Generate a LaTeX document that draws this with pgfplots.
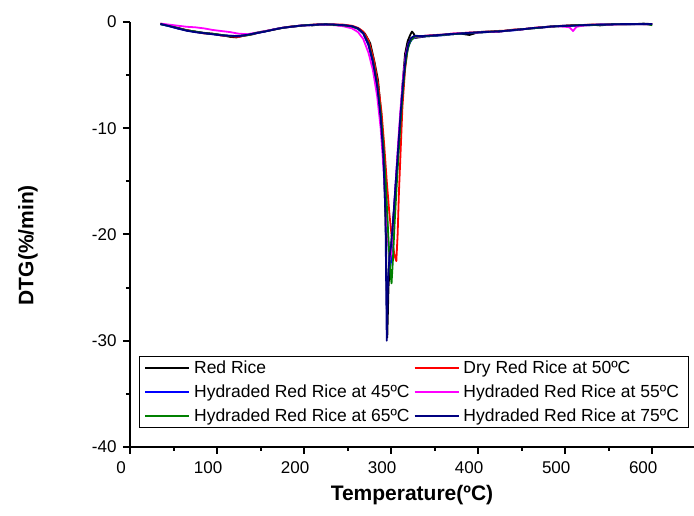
\documentclass[border=0pt]{standalone}
\usepackage{fontspec}
\setmainfont{Liberation Sans}
\usepackage{pgfplots}
\pgfplotsset{compat=1.18}
\definecolor{navyc}{RGB}{0,0,128}
\definecolor{greenc}{RGB}{0,128,0}
\definecolor{magc}{RGB}{255,0,255}
\definecolor{redc}{RGB}{255,0,0}
\definecolor{bluec}{RGB}{0,0,255}
\begin{document}
\begin{tikzpicture}
\useasboundingbox (-130pt,-69pt) rectangle (564pt,447pt);
\begin{axis}[
  at={(0,0)}, anchor=south west,
  scale only axis, width=564pt, height=425pt,
  xmin=0, xmax=648, ymin=-40, ymax=0,
  axis x line*=bottom, axis y line*=left,
  axis line style={line width=2pt,-},
  xtick={0,100,...,600}, ytick={-40,-30,...,0},
  minor x tick num=1, minor y tick num=1,
  tick align=outside, major tick length=7pt, minor tick length=4pt,
  every tick/.style={line width=2pt,black},
  /pgf/number format/assume math mode=true,
  tick label style={font=\fontsize{17}{19}\selectfont},
  xticklabel style={xshift=-9pt, yshift=-4pt},
  yticklabel style={xshift=-3pt},
  xlabel={\textbf{Temperature(ºC)}},
  ylabel={\textbf{DTG(\%/min)}},
  label style={font=\fontsize{21}{24}\selectfont},
  xlabel style={at={(axis description cs:0.5,-0.112)}, anchor=center},
  ylabel style={at={(axis description cs:-0.181,0.475)}, anchor=center},
  legend columns=2,
  legend style={at={(0.016,0.0447)}, anchor=south west, draw=black, line width=0.6pt,
    font=\fontsize{17.5}{20}\selectfont, inner xsep=5pt, inner ysep=2pt,
    nodes={inner xsep=4pt, inner ysep=2.5pt},
    row sep=5pt, /tikz/every even column/.append style={column sep=0pt}},
  legend cell align=left,
  legend image code/.code={\draw[#1,line width=1.8pt] (0pt,0pt) -- (44pt,0pt);},
  every axis plot/.append style={line width=1.8pt, line join=round},
]
\addplot[black] coordinates {
(35,-0.2)(45,-0.35)(55,-0.55)(65,-0.78)(75,-0.9)(85,-1.02)(95,-1.1)(105,-1.22)(115,-1.4)(122,-1.45)(130,-1.3)(140,-1.18)(150,-0.95)(160,-0.8)(170,-0.62)(180,-0.5)(190,-0.42)(200,-0.3)(210,-0.32)(220,-0.2)(230,-0.25)(240,-0.3)(250,-0.35)(258,-0.5)(264,-0.7)(270,-1.1)(276,-2.0)(281,-3.8)(285,-5.5)(289,-9)(292,-14)(294,-20)(295.6,-29.7)(297,-25)(299,-22)(301,-20)(304,-17)(307,-13.5)(310,-10)(313,-6)(316,-3)(319,-1.8)(322,-1.2)(324,-0.9)(326,-1.1)(328,-1.5)(332,-1.45)(340,-1.35)(350,-1.3)(360,-1.2)(370,-1.15)(380,-1.1)(390,-1.22)(395,-1.1)(400,-0.95)(410,-0.9)(420,-0.95)(430,-0.85)(440,-0.75)(450,-0.7)(460,-0.6)(470,-0.55)(480,-0.45)(490,-0.4)(500,-0.35)(510,-0.3)(520,-0.3)(530,-0.25)(540,-0.32)(550,-0.25)(560,-0.2)(570,-0.22)(580,-0.2)(590,-0.15)(600,-0.2)
};
\addlegendentry{Red Rice}
\addplot[redc] coordinates {
(35,-0.15)(45,-0.35)(55,-0.6)(65,-0.75)(75,-0.92)(85,-1.08)(95,-1.12)(105,-1.28)(115,-1.35)(125,-1.4)(135,-1.22)(145,-1.05)(155,-0.88)(165,-0.72)(175,-0.55)(185,-0.42)(195,-0.35)(205,-0.28)(215,-0.22)(225,-0.2)(235,-0.22)(245,-0.25)(255,-0.35)(262,-0.55)(268,-0.9)(274,-1.7)(280,-3.5)(285,-5.8)(289,-8.5)(292,-11.5)(295,-15)(298,-18)(301,-20.5)(304,-22)(306,-22.5)(307.5,-20)(309,-16)(311,-12)(313,-8)(316,-4.5)(319,-2.5)(322,-1.7)(326,-1.4)(332,-1.35)(340,-1.3)(350,-1.22)(360,-1.2)(370,-1.1)(380,-1.05)(390,-1.0)(400,-0.95)(410,-0.92)(420,-0.85)(430,-0.82)(440,-0.72)(450,-0.68)(460,-0.6)(470,-0.5)(480,-0.45)(490,-0.38)(500,-0.35)(510,-0.3)(520,-0.28)(530,-0.25)(540,-0.25)(550,-0.22)(560,-0.2)(570,-0.2)(580,-0.18)(590,-0.2)(600,-0.2)
};
\addlegendentry{Dry Red Rice at 50ºC}
\addplot[bluec] coordinates {
(35,-0.2)(45,-0.4)(55,-0.62)(65,-0.8)(75,-0.95)(85,-1.05)(95,-1.15)(105,-1.25)(115,-1.3)(125,-1.35)(135,-1.2)(145,-1.05)(155,-0.9)(165,-0.7)(175,-0.55)(185,-0.45)(195,-0.35)(205,-0.3)(215,-0.25)(225,-0.25)(235,-0.25)(245,-0.3)(255,-0.4)(262,-0.65)(268,-1.1)(274,-2.2)(279,-3.8)(284,-6.2)(288,-9)(291,-12)(294,-16)(296.5,-20.5)(298.5,-23.3)(300,-22.5)(302,-19.5)(305,-15.5)(308,-12)(311,-8.5)(314,-5.5)(317,-3.3)(320,-2.2)(324,-1.6)(330,-1.4)(340,-1.35)(350,-1.3)(360,-1.25)(370,-1.15)(380,-1.1)(390,-1.05)(400,-1.0)(410,-0.95)(420,-0.9)(430,-0.85)(440,-0.8)(450,-0.7)(460,-0.6)(470,-0.55)(480,-0.45)(490,-0.4)(500,-0.35)(510,-0.35)(520,-0.3)(530,-0.3)(540,-0.25)(550,-0.25)(560,-0.2)(570,-0.2)(580,-0.2)(590,-0.2)(600,-0.2)
};
\addlegendentry{Hydraded Red Rice at 45ºC}
\addplot[magc] coordinates {
(35,-0.15)(45,-0.25)(55,-0.35)(65,-0.45)(75,-0.5)(85,-0.6)(95,-0.75)(105,-0.85)(115,-0.95)(125,-1.1)(135,-1.15)(145,-1.0)(155,-0.85)(165,-0.7)(175,-0.55)(185,-0.45)(195,-0.35)(205,-0.3)(215,-0.25)(225,-0.25)(235,-0.3)(245,-0.4)(255,-0.6)(262,-0.95)(268,-1.6)(274,-2.9)(279,-4.5)(284,-7)(288,-10)(291,-13.5)(294,-17.5)(296.5,-20.5)(298.5,-22.4)(300,-21.8)(302,-19.5)(305,-15.5)(308,-11.5)(311,-8)(314,-5)(317,-3)(320,-2.0)(324,-1.5)(330,-1.4)(340,-1.3)(350,-1.25)(360,-1.2)(370,-1.1)(380,-1.05)(390,-1.0)(400,-1.0)(410,-0.92)(420,-0.95)(430,-0.85)(440,-0.75)(450,-0.7)(460,-0.6)(470,-0.52)(480,-0.48)(490,-0.4)(500,-0.45)(505,-0.5)(509,-0.85)(513,-0.45)(520,-0.35)(530,-0.28)(540,-0.25)(550,-0.25)(560,-0.22)(570,-0.2)(580,-0.2)(590,-0.2)(600,-0.22)
};
\addlegendentry{Hydraded Red Rice at 55ºC}
\addplot[greenc] coordinates {
(35,-0.2)(45,-0.38)(55,-0.58)(65,-0.78)(75,-0.9)(85,-1.05)(95,-1.12)(105,-1.22)(115,-1.32)(125,-1.3)(135,-1.25)(145,-1.02)(155,-0.88)(165,-0.72)(175,-0.56)(185,-0.44)(195,-0.36)(205,-0.28)(215,-0.25)(225,-0.22)(235,-0.28)(245,-0.32)(255,-0.42)(262,-0.62)(268,-1.05)(274,-2.0)(279,-3.6)(284,-5.8)(288,-8.5)(291,-11.5)(294,-15.5)(297,-20.5)(299,-23.5)(300.5,-24.6)(302,-22.5)(304,-19)(307,-14.5)(310,-10.5)(313,-7)(316,-4.2)(319,-2.6)(322,-1.8)(327,-1.4)(335,-1.35)(345,-1.3)(355,-1.25)(365,-1.18)(375,-1.12)(385,-1.05)(395,-1.0)(405,-0.98)(415,-0.9)(425,-0.88)(435,-0.8)(445,-0.72)(455,-0.65)(465,-0.58)(475,-0.5)(485,-0.42)(495,-0.4)(505,-0.35)(515,-0.3)(525,-0.3)(535,-0.28)(545,-0.25)(555,-0.22)(565,-0.2)(575,-0.2)(585,-0.2)(595,-0.22)(600,-0.3)
};
\addlegendentry{Hydraded Red Rice at 65ºC}
\addplot[navyc] coordinates {
(35,-0.18)(45,-0.38)(55,-0.6)(65,-0.82)(75,-0.95)(85,-1.05)(95,-1.15)(105,-1.25)(115,-1.3)(125,-1.32)(135,-1.2)(145,-1.05)(155,-0.9)(165,-0.72)(175,-0.55)(185,-0.45)(195,-0.35)(205,-0.3)(215,-0.25)(225,-0.22)(235,-0.25)(245,-0.3)(255,-0.4)(262,-0.6)(268,-1.05)(274,-2.1)(279,-3.7)(284,-6)(288,-9)(291,-12.5)(293.5,-18)(295,-30)(296.5,-24)(298,-22.3)(300,-21)(302,-19)(305,-15.5)(308,-12)(311,-8.5)(314,-5.5)(317,-3.2)(320,-2.0)(323,-1.5)(327,-1.3)(335,-1.32)(345,-1.28)(355,-1.22)(365,-1.15)(375,-1.1)(385,-1.05)(395,-1.0)(405,-0.95)(415,-0.92)(425,-0.88)(435,-0.8)(445,-0.72)(455,-0.65)(465,-0.55)(475,-0.5)(485,-0.42)(495,-0.38)(505,-0.35)(515,-0.32)(525,-0.28)(535,-0.25)(545,-0.25)(555,-0.22)(565,-0.2)(575,-0.2)(585,-0.18)(595,-0.2)(600,-0.2)
};
\addlegendentry{Hydraded Red Rice at 75ºC}
\end{axis}
\end{tikzpicture}
\end{document}
